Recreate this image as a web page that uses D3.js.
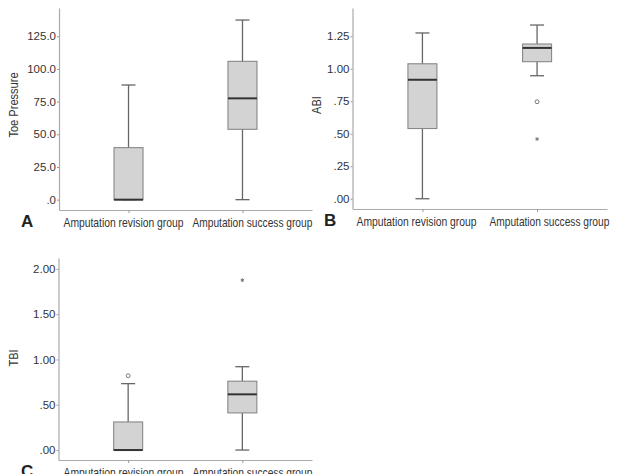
<!DOCTYPE html>
<html lang="en">
<head>
<meta charset="UTF-8">
<title>Toe pressure, ABI and TBI box plots</title>
<script src="https://d3js.org/d3.v7.min.js"></script>
<style>
    body { margin: 0; background: #fff; }
    svg { display: block; }
    .tick text { font-family: "Liberation Sans", Arial, sans-serif; font-size: 11.5px; fill: #333; }
    .cat text { font-size: 12.8px; }
</style>
</head>
<body>
<div id="chart"></div>
<script>
    // groups shared by all panels
    var groups = ["Amputation revision group", "Amputation success group"];

    // A: toe pressure
    var toeLow = [0, 0], toeQ1 = [0, 53.8], toeMed = [0, 77.5], toeQ3 = [39.8, 105.8], toeHigh = [87.7, 137.4];
    var toeTicks = [0, 25, 50, 75, 100, 125];

    // B: ABI
    var abiLow = [0, 0.946], abiQ1 = [0.54, 1.054], abiMed = [0.915, 1.16], abiQ3 = [1.038, 1.19], abiHigh = [1.275, 1.336];
    var abiTicks = [0, 0.25, 0.5, 0.75, 1.0, 1.25];
    var abiOutGroup = [1, 1], abiOutValue = [0.746, 0.459], abiOutKind = ["circle", "star"];

    // C: TBI
    var tbiLow = [0, 0], tbiQ1 = [0, 0.41], tbiMed = [0, 0.615], tbiQ3 = [0.31, 0.76], tbiHigh = [0.733, 0.92];
    var tbiTicks = [0, 0.5, 1.0, 1.5, 2.0];
    var tbiOutGroup = [0, 1], tbiOutValue = [0.82, 1.875], tbiOutKind = ["circle", "star"];

    var width = 632, height = 474;
    var svg = d3.select("#chart").append("svg")
        .attr("width", width).attr("height", height);

    function tickFmt(spec) {
        var f = d3.format(spec);
        return function (v) {
            var s = f(v);
            return s.indexOf("0.") === 0 ? s.slice(1) : s;
        };
    }

    function panel(p) {
        var g = svg.append("g");
        var x = d3.scalePoint().domain(groups).range([p.x0, p.x1]).padding(0.61);
        var y = d3.scaleLinear().domain(p.domain).range([p.yb, p.yt]);

        // axes
        var yAx = g.append("g").attr("transform", "translate(" + p.x0 + ",0)")
            .call(d3.axisLeft(y).tickValues(p.ticks).tickFormat(tickFmt(p.fmt)).tickSize(2).tickSizeOuter(0).tickPadding(1));
        var xAx = g.append("g").attr("class", "cat").attr("transform", "translate(0," + p.yb + ")")
            .call(d3.axisBottom(x).tickSize(3).tickSizeOuter(0).tickPadding(5));
        // no narrow font here: squeeze the labels to 120px, and they sit a little off their ticks
        xAx.selectAll(".tick text")
            .attr("text-anchor", "start")
            .attr("x", 0)
            .attr("transform", function (d, i) {
                var k = 120 / this.getComputedTextLength();
                return "translate(" + (p.lab[i] - x(d)) + ",0) scale(" + k + ",1)";
            });
        [yAx, xAx].forEach(function (a) {
            a.select(".domain").attr("stroke", "#aaa").attr("stroke-width", 1.2);
            a.selectAll(".tick line").attr("stroke", "#999");
        });

        var bw = 29, cw = 14;
        var data = groups.map(function (name, i) {
            return { name: name, lo: p.lo[i], q1: p.q1[i], med: p.med[i], q3: p.q3[i], hi: p.hi[i] };
        });
        var box = g.selectAll(".box").data(data).join("g").attr("class", "box");

        box.append("line")
            .attr("x1", d => x(d.name)).attr("x2", d => x(d.name))
            .attr("y1", d => y(d.hi)).attr("y2", d => y(d.lo))
            .attr("stroke", "#666").attr("stroke-width", 1.3);
        box.selectAll(".cap").data(d => [[d.name, d.hi], [d.name, d.lo]]).join("line")
            .attr("x1", d => x(d[0]) - cw / 2).attr("x2", d => x(d[0]) + cw / 2)
            .attr("y1", d => y(d[1])).attr("y2", d => y(d[1]))
            .attr("stroke", "#666").attr("stroke-width", 1.3);
        box.append("rect")
            .attr("x", d => x(d.name) - bw / 2).attr("width", bw)
            .attr("y", d => y(d.q3)).attr("height", d => y(d.q1) - y(d.q3))
            .attr("fill", "#d3d3d3").attr("stroke", "#888").attr("stroke-width", 1.1);
        box.append("line")
            .attr("x1", d => x(d.name) - bw / 2).attr("x2", d => x(d.name) + bw / 2)
            .attr("y1", d => y(d.med)).attr("y2", d => y(d.med))
            .attr("stroke", "#333").attr("stroke-width", 2);

        // outliers
        if (p.outG) {
            var outs = p.outG.map((gi, i) => ({ name: groups[gi], v: p.outV[i], k: p.outK[i] }));
            g.selectAll(".out").data(outs).join("path")
                .attr("transform", d => "translate(" + x(d.name) + "," + y(d.v) + ")")
                .attr("d", d => d.k === "circle"
                    ? d3.symbol(d3.symbolCircle, 12)()
                    : d3.symbol(d3.symbolAsterisk, 10)())
                .attr("fill", "none").attr("stroke", "#777").attr("stroke-width", 1);
        }

        // y title, squeezed along its length
        g.append("text")
            .attr("transform", "translate(" + p.tx + "," + p.ty + ") rotate(-90) scale(0.82,1)")
            .attr("text-anchor", "middle")
            .style("font-family", "'Liberation Sans', Arial, sans-serif")
            .style("font-size", "13.5px").attr("fill", "#333")
            .text(p.title);

        // panel letter
        g.append("text")
            .attr("x", p.lx).attr("y", p.yb + 17)
            .style("font-family", "'Liberation Sans', Arial, sans-serif")
            .style("font-size", "17px").style("font-weight", "bold").attr("fill", "#222")
            .text(p.letter);
    }

    panel({ x0: 59, x1: 312, yb: 210, yt: 8, domain: [-7.9, 146.6], ticks: toeTicks, fmt: ".1f",
        lo: toeLow, q1: toeQ1, med: toeMed, q3: toeQ3, hi: toeHigh, lab: [63, 192],
        title: "Toe Pressure", tx: 18, ty: 105, letter: "A", lx: 21 });

    panel({ x0: 352.5, x1: 607, yb: 209, yt: 8, domain: [-0.079, 1.467], ticks: abiTicks, fmt: ".2f",
        lo: abiLow, q1: abiQ1, med: abiMed, q3: abiQ3, hi: abiHigh, lab: [356, 489],
        outG: abiOutGroup, outV: abiOutValue, outK: abiOutKind,
        title: "ABI", tx: 321, ty: 105, letter: "B", lx: 324 });

    panel({ x0: 58.5, x1: 312, yb: 460, yt: 258, domain: [-0.11, 2.12], ticks: tbiTicks, fmt: ".2f",
        lo: tbiLow, q1: tbiQ1, med: tbiMed, q3: tbiQ3, hi: tbiHigh, lab: [63, 192],
        outG: tbiOutGroup, outV: tbiOutValue, outK: tbiOutKind,
        title: "TBI", tx: 18, ty: 358, letter: "C", lx: 21 });
</script>
</body>
</html>
